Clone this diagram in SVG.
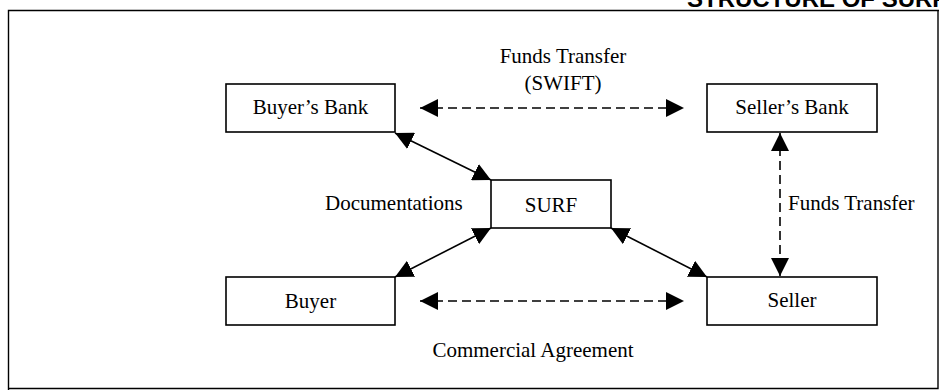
<svg xmlns="http://www.w3.org/2000/svg" width="939" height="391" viewBox="0 0 939 391">
  <style>
    .box { fill: #fff; stroke: #000; stroke-width: 1.6; }
    .lbl { font-family: "Liberation Serif", "Times New Roman", serif; font-size: 21px; fill: #000; }
    .mid { text-anchor: middle; }
    .link { stroke: #000; stroke-width: 1.6; fill: none; }
    .dash { stroke-dasharray: 9 5; }
    .frame { stroke: #000; stroke-width: 1.4; fill: none; }
    .title { font-family: "Liberation Sans", Arial, sans-serif; font-size: 24px; font-weight: bold; fill: #000; }
  </style>
  <defs>
    <marker id="head" markerUnits="userSpaceOnUse" markerWidth="18" markerHeight="18" refX="17" refY="8.5" orient="auto-start-reverse" viewBox="0 0 17 17">
      <path d="M0,0 L17,8.5 L0,17 z" fill="#000"/>
    </marker>
  </defs>

  <!-- page frame and heading -->
  <text class="title" x="687" y="7">STRUCTURE OF SURF</text>
  <path class="frame" d="M8.5,390 V10.5 H939"/>
  <path class="frame" d="M938,10.5 V388.5 H8.5"/>

  <!-- connectors -->
  <g id="connectors">
    <line class="link dash" x1="420" y1="108" x2="684" y2="108" marker-start="url(#head)" marker-end="url(#head)"/>
    <line class="link dash" x1="420" y1="301" x2="684" y2="301" marker-start="url(#head)" marker-end="url(#head)"/>
    <line class="link dash" x1="780" y1="133" x2="780" y2="276" marker-start="url(#head)" marker-end="url(#head)"/>
    <line class="link" x1="395" y1="133" x2="491" y2="180" marker-start="url(#head)" marker-end="url(#head)"/>
    <line class="link" x1="395" y1="277" x2="491" y2="228" marker-start="url(#head)" marker-end="url(#head)"/>
    <line class="link" x1="611" y1="228" x2="707" y2="277" marker-start="url(#head)" marker-end="url(#head)"/>
    <text class="lbl mid" x="563" y="63">Funds Transfer</text>
    <text class="lbl mid" x="563" y="90">(SWIFT)</text>
    <text class="lbl" x="325" y="210">Documentations</text>
    <text class="lbl" x="788" y="210">Funds Transfer</text>
    <text class="lbl mid" x="533" y="357">Commercial Agreement</text>
  </g>

  <g id="buyers-bank">
    <rect class="box" x="226" y="84" width="169" height="48"/>
    <text class="lbl mid" x="310.5" y="114">Buyer’s Bank</text>
  </g>
  <g id="sellers-bank">
    <rect class="box" x="707" y="84" width="170" height="48"/>
    <text class="lbl mid" x="792" y="114">Seller’s Bank</text>
  </g>
  <g id="surf">
    <rect class="box" x="491" y="180" width="120" height="48"/>
    <text class="lbl mid" x="551" y="212">SURF</text>
  </g>
  <g id="buyer">
    <rect class="box" x="226" y="277" width="169" height="48"/>
    <text class="lbl mid" x="310.5" y="308">Buyer</text>
  </g>
  <g id="seller">
    <rect class="box" x="707" y="277" width="170" height="48"/>
    <text class="lbl mid" x="792" y="307">Seller</text>
  </g>
</svg>
